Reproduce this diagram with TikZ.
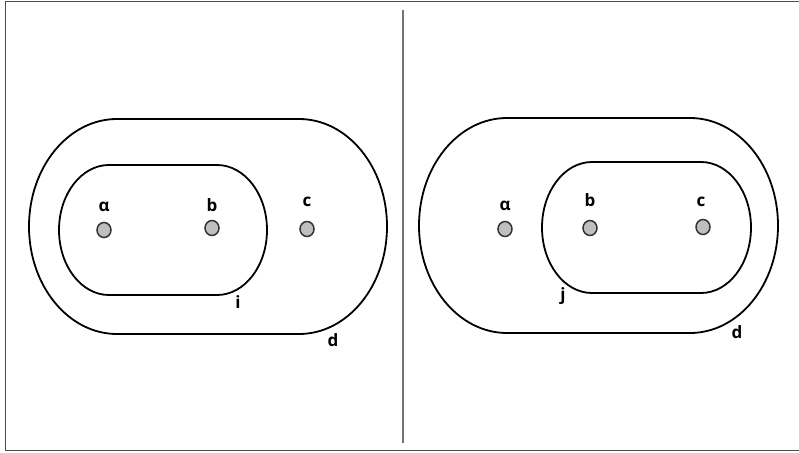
\documentclass[tikz,border=0pt]{standalone}
\usepackage{fontspec}
\setmainfont{Open Sans}
\usetikzlibrary{positioning,shapes.geometric}

% stadium: left x, top y, right x, bottom y, x radius of the ends (y counted downwards)
\newcommand{\stadium}[5]{%
  \draw[ring] ({#1+#5},{-#2}) -- ({#3-#5},{-#2})
    arc[start angle=90, end angle=-90, x radius=#5, y radius={(#4-#2)/2}]
    -- ({#1+#5},{-#4})
    arc[start angle=270, end angle=90, x radius=#5, y radius={(#4-#2)/2}] -- cycle;}

\begin{document}
\begin{tikzpicture}[
  x=1pt, y=1pt,
  ring/.style={draw=black, line width=1.8pt},
  point/.style={draw=black!80, fill=black!25, line width=1.5pt, ellipse, inner sep=0pt, minimum width=14pt, minimum height=15pt},
  tag/.style={font=\fontsize{17}{19}\selectfont\bfseries, inner sep=0pt, anchor=base}
]
\useasboundingbox (0,0) rectangle (799,-452);
% frame
\draw[black!70, line width=1.3pt] (799,-1.5) -- (5.5,-1.5) -- (5.5,-450.5) -- (799,-450.5);
\draw[black!55, line width=2pt] (403,-10) -- (403,-443);

% left panel
\stadium{29}{119}{387}{334}{88}
\stadium{59}{165}{267}{295}{50}
\node[point] (la) at (104,-230) {};
\node[point] (lb) at (212,-228) {};
\node[point] (lc) at (307,-229) {};
\node[tag] (lalpha) at (104,-211) {α};
\node[tag] (lbt) at (212,-211) {b};
\node[tag] (lct) at (307,-206) {c};
\node[tag] (li) at (238,-308) {i};
\node[tag] (ld) at (333,-346) {d};

% right panel
\stadium{419}{118}{778}{333}{88}
\stadium{542}{162}{751}{293}{50}
\node[point] (ra) at (505,-229) {};
\node[point] (rb) at (590,-228) {};
\node[point] (rc) at (703,-227) {};
\node[tag] (ralpha) at (505,-210) {α};
\node[tag] (rbt) at (590,-206) {b};
\node[tag] (rct) at (701,-206) {c};
\node[tag] (rj) at (563,-300) {j};
\node[tag] (rd) at (737,-338) {d};
\end{tikzpicture}
\end{document}
